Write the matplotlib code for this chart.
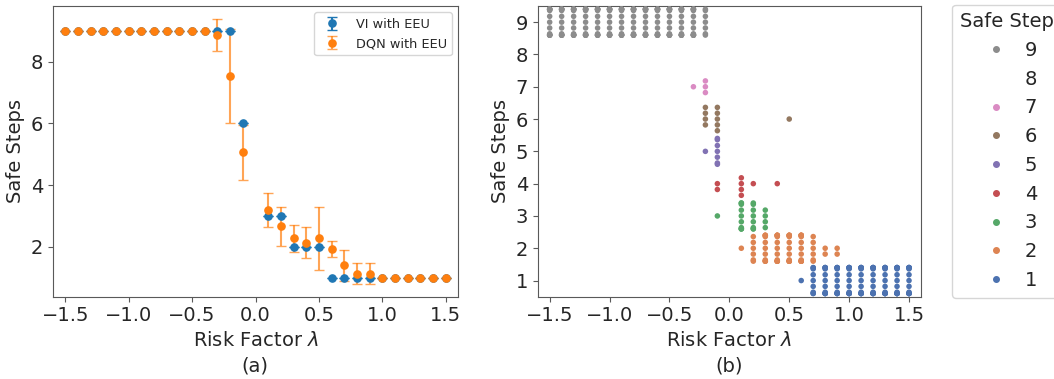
import warnings
import numpy as np
import pandas as pd
import matplotlib
matplotlib.use("Agg")
import matplotlib.pyplot as plt
from matplotlib.lines import Line2D
from matplotlib.colors import to_rgba
import seaborn as sns

warnings.filterwarnings("ignore")

# risk factor values (lambda = 0 is not used)
lam = [-1.5, -1.4, -1.3, -1.2, -1.1, -1.0, -0.9, -0.8, -0.7, -0.6, -0.5, -0.4,
       -0.3, -0.2, -0.1, 0.1, 0.2, 0.3, 0.4, 0.5, 0.6, 0.7, 0.8, 0.9,
       1.0, 1.1, 1.2, 1.3, 1.4, 1.5]

# (a) safe steps
vi_steps = [9, 9, 9, 9, 9, 9, 9, 9, 9, 9, 9, 9,
            9, 9, 6, 3, 3, 2, 2, 2, 1, 1, 1, 1,
            1, 1, 1, 1, 1, 1]
dqn_mean = [9, 9, 9, 9, 9, 9, 9, 9, 9, 9, 9, 9,
            8.87, 7.53, 5.07, 3.2, 2.67, 2.27, 2.13, 2.27, 1.93, 1.4, 1.13, 1.13,
            1, 1, 1, 1, 1, 1]
dqn_std = [0, 0, 0, 0, 0, 0, 0, 0, 0, 0, 0, 0,
           0.52, 1.52, 0.89, 0.55, 0.63, 0.45, 0.5, 1.03, 0.26, 0.51, 0.35, 0.35,
           0, 0, 0, 0, 0, 0]

# (b) number of runs (out of 15) that reached each safe step, per lambda
runs_9 = [15, 15, 15, 15, 15, 15, 15, 15, 15, 15, 15, 15,
          14, 7, 0, 0, 0, 0, 0, 0, 0, 0, 0, 0, 0, 0, 0, 0, 0, 0]
runs_7 = [0] * 12 + [1, 3] + [0] * 16
runs_6 = [0] * 13 + [4, 5, 0, 0, 0, 0, 1] + [0] * 10
runs_5 = [0] * 13 + [1, 7] + [0] * 15
runs_4 = [0] * 14 + [2, 4, 1, 0, 1] + [0] * 11
runs_3 = [0] * 14 + [1, 10, 8, 4] + [0] * 12
runs_2 = [0] * 15 + [1, 6, 11, 14, 14, 14, 6, 2, 2] + [0] * 6
runs_1 = [0] * 20 + [1, 9, 13, 13, 15, 15, 15, 15, 15, 15]

steps = [9, 8, 7, 6, 5, 4, 3, 2, 1]
step_colors = {1: "#4C72B0", 2: "#DD8452", 3: "#55A868", 4: "#C44E52",
               5: "#8172B3", 6: "#937860", 7: "#DA8BC3", 9: "#8C8C8C"}

runs = {9: runs_9, 7: runs_7, 6: runs_6, 5: runs_5,
        4: runs_4, 3: runs_3, 2: runs_2, 1: runs_1}
rows = []
for s, cnt in runs.items():
    for x, c in zip(lam, cnt):
        rows += [(x, s)] * c
df = pd.DataFrame(rows, columns=["lam", "step"])

txt = "#262626"
plt.rcParams.update({"font.family": "DejaVu Sans", "font.size": 14,
                     "text.color": txt, "axes.labelcolor": txt,
                     "xtick.color": txt, "ytick.color": txt,
                     "axes.edgecolor": "0.35"})

W, H = 1054, 379
fig = plt.figure(figsize=(W / 100, H / 100), dpi=100)
ax1 = fig.add_axes([52.7 / W, 1 - 296.7 / H, 405.6 / W, 290.7 / H])
ax2 = fig.add_axes([537.7 / W, 1 - 296.7 / H, 383.3 / W, 290.7 / H])

# ---- (a)
ax1.errorbar(lam, vi_steps, yerr=np.zeros(len(lam)), fmt="o", color="#1f77b4",
             markersize=5.2, capsize=3.3, label="VI with EEU")
ax1.errorbar(lam, dqn_mean, yerr=dqn_std, fmt="o", color="#ff7f0e",
             ecolor=to_rgba("#ff7f0e", 0.7), markersize=5.2, capsize=3.3,
             label="DQN with EEU")
ax1.set_xlim(-1.6, 1.6)
ax1.set_ylim(0.38, 9.81)
ax1.set_xticks([-1.5, -1.0, -0.5, 0.0, 0.5, 1.0, 1.5])
ax1.set_yticks([2, 4, 6, 8])
ax1.set_xlabel("Risk Factor $\\lambda$")
ax1.set_ylabel("Safe Steps")
ax1.legend(loc="upper right", fontsize=9.3)
fig.text(255 / W, 1 - 366 / H, "(a)", ha="center", va="center")

# ---- (b)
sns.swarmplot(data=df, x="lam", y="step", hue="step", orient="h",
              order=steps, palette=step_colors, size=4, ax=ax2, legend=False)
ax2.set_xlim(-1.6, 1.6)
ax2.set_xticks([-1.5, -1.0, -0.5, 0.0, 0.5, 1.0, 1.5])
ax2.set_xlabel("Risk Factor $\\lambda$")
ax2.set_ylabel("Safe Steps")
fig.text(729 / W, 1 - 366 / H, "(b)", ha="center", va="center")

handles = []
for s in steps:
    if s in step_colors:
        handles.append(Line2D([], [], ls="", marker="o", markersize=4,
                              color=step_colors[s]))
    else:
        handles.append(Line2D([], [], ls="", marker=""))
fig.legend(handles, [str(s) for s in steps], title="Safe Step",
           loc="upper left", bbox_to_anchor=(952 / W, 1 - 4.5 / H),
           borderaxespad=0, fontsize=14, title_fontsize=14, labelspacing=0.5,
           handletextpad=0.5)

for ax in (ax1, ax2):
    ax.tick_params(length=3.5, width=0.8, color="0.35")

fig.savefig("out.png", dpi=100)
